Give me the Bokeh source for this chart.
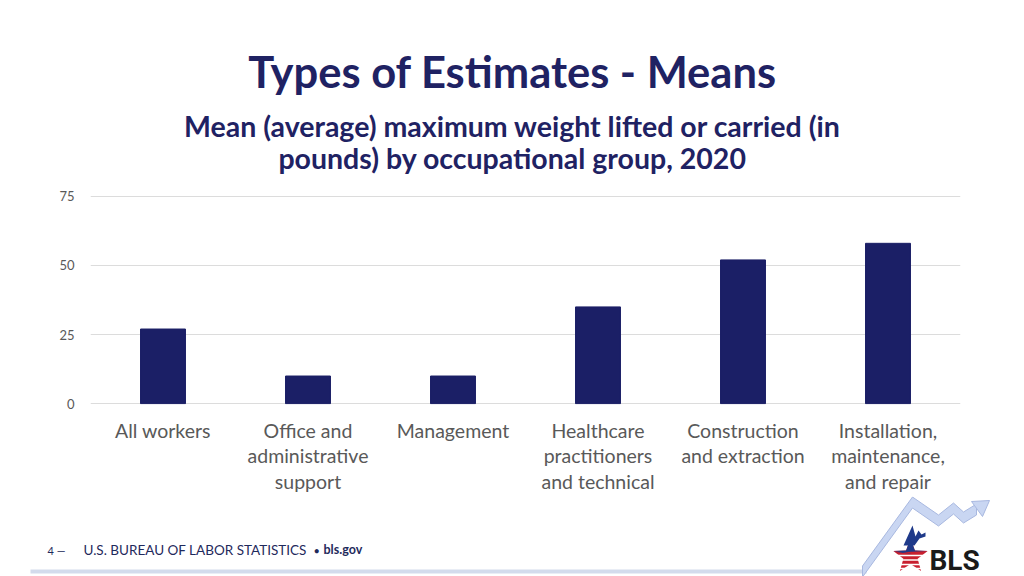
import math
from bokeh.plotting import figure
from bokeh.layouts import column
from bokeh.models import FactorRange, Range1d, FixedTicker
from bokeh.core.properties import value
from bokeh.embed import file_html
from bokeh.resources import INLINE

# ---- data ----
categories = [
    "All workers",
    "Office and\nadministrative\nsupport",
    "Management",
    "Healthcare\npractitioners\nand technical",
    "Construction\nand extraction",
    "Installation,\nmaintenance,\nand repair",
]
mean_weight = [27, 10, 10, 35, 52, 58]
y_ticks = [0, 25, 50, 75]

title_text = "Types of Estimates - Means"
subtitle_lines = ["Mean (average) maximum weight lifted or carried (in",
                  "pounds) by occupational group, 2020"]

NAVY = "#1b1f66"
TITLE = "#1f2263"
GRAY = "#595959"
FONT = "Lato"
W = 1024
HEAD_H = 180
FOOT_TOP = 496
BASE_K = 0.37   # empirical shift of the alphabetic baseline (fraction of font size)


def blank(height, y0, y1):
    f = figure(width=W, height=height, x_range=Range1d(0, W), y_range=Range1d(y1, y0),
               output_backend="svg", toolbar_location=None, title=None,
               x_axis_location=None, y_axis_location=None, frame_align=False,
               min_border=0, min_border_left=0, min_border_right=0,
               min_border_top=0, min_border_bottom=0)
    f.outline_line_color = None
    f.xgrid.visible = False
    f.ygrid.visible = False
    return f


def txt(f, x, base, s, size, color, font=FONT, style="normal", align="left"):
    f.text(x=[x], y=[base - BASE_K * size], text=[s], text_align=align,
           text_baseline="alphabetic", text_font=value(font), text_font_style=style,
           text_font_size=f"{size}px", text_color=color)


# ---- header ----
head = blank(HEAD_H, 0, HEAD_H)
txt(head, 512, 87, title_text, 43.5, TITLE, style="bold", align="center")
txt(head, 512, 136, subtitle_lines[0], 28.5, TITLE, style="bold", align="center")
txt(head, 512, 168, subtitle_lines[1], 28.5, TITLE, style="bold", align="center")

# ---- chart ----
MAIN_H = FOOT_TOP - HEAD_H
p = figure(x_range=FactorRange(*categories), y_range=Range1d(-0.3, 75.3),
           width=W, height=MAIN_H, output_backend="svg", toolbar_location=None,
           min_border_left=90, min_border_right=64, min_border_top=15,
           min_border_bottom=MAIN_H - (404 - HEAD_H))
p.outline_line_color = None

p.vbar(x=categories, top=mean_weight, width=0.31, fill_color=NAVY, line_color=NAVY)

p.xgrid.grid_line_color = None
p.ygrid.grid_line_color = "#dcdcdc"
p.ygrid.ticker = FixedTicker(ticks=y_ticks)

p.yaxis.ticker = FixedTicker(ticks=y_ticks)
p.yaxis.axis_line_color = None
p.yaxis.major_tick_line_color = None
p.yaxis.minor_tick_line_color = None
p.yaxis.major_label_text_font = FONT
p.yaxis.major_label_text_font_size = "13px"
p.yaxis.major_label_text_color = GRAY
p.yaxis.major_label_standoff = 10

p.xaxis.axis_line_color = None
p.xaxis.major_tick_line_color = None
p.xaxis.major_label_text_font = FONT
p.xaxis.major_label_text_font_size = "19.5px"
p.xaxis.major_label_text_color = GRAY
p.xaxis.major_label_standoff = 8
p.xaxis.major_label_text_line_height = 1.12

# ---- footer with logo ----
foot = blank(576 - FOOT_TOP, FOOT_TOP, 576)
FOOT = "#1f2a5c"
txt(foot, 47, 554, "4 \u2014", 11, FOOT)
txt(foot, 83, 554, "U.S. BUREAU OF LABOR STATISTICS", 13.5, FOOT)
txt(foot, 313, 554, "\u2022", 11, FOOT)
txt(foot, 323, 554, "bls.gov", 12.5, FOOT, style="bold")

line_pts = [(30, 569), (866, 569), (866, 573), (30, 573)]
foot.patch([a for a, b in line_pts], [b for a, b in line_pts], fill_color="#d3dbec",
           line_color=None)
center = [(862, 571), (912, 502), (938, 520), (953, 508), (963, 517), (976, 509)]
half = 5.5
band = [(a, b - half) for a, b in center] + [(a, b + half) for a, b in center][::-1]
foot.patch([a for a, b in band], [b for a, b in band], fill_color="#c9d6f2",
           line_color="#a8b8e0", line_width=1)
arrow_head = [(971, 501), (989, 500), (982, 516)]
foot.patch([a for a, b in arrow_head], [b for a, b in arrow_head], fill_color="#c9d6f2",
           line_color="#a8b8e0", line_width=1)

cx, cy, R, r = 910, 556, 18, 7.5
star = []
for k in range(10):
    ang = math.radians(90 + 36 * k)
    rad = R if k % 2 == 0 else r
    star.append((cx + rad * math.cos(ang), cy - rad * math.sin(ang)))
foot.patch([a for a, b in star], [b for a, b in star], fill_color="#c8202f", line_color=None)
for yy in [555, 559.5, 564, 568]:
    foot.line([cx - 16, cx + 16], [yy, yy], line_color="white", line_width=1.3)
blue = [star[8], star[9], star[0], star[1], star[2], (cx + 2, 553), (cx - 14, 552)]
foot.patch([a for a, b in blue], [b for a, b in blue], fill_color="#1f3a8a", line_color=None)
spike = [(903, 545), (912, 525), (915, 536), (918, 530), (921, 534), (925, 532),
         (925, 536), (919, 538), (914, 545)]
foot.patch([a for a, b in spike], [b for a, b in spike], fill_color="#1f3a8a", line_color=None)
txt(foot, 929, 570, "BLS", 28, "#1a1a1a", font="Roboto", style="bold")

layout = column(head, p, foot, spacing=0)
open("out.html", "w").write(file_html(layout, INLINE))
